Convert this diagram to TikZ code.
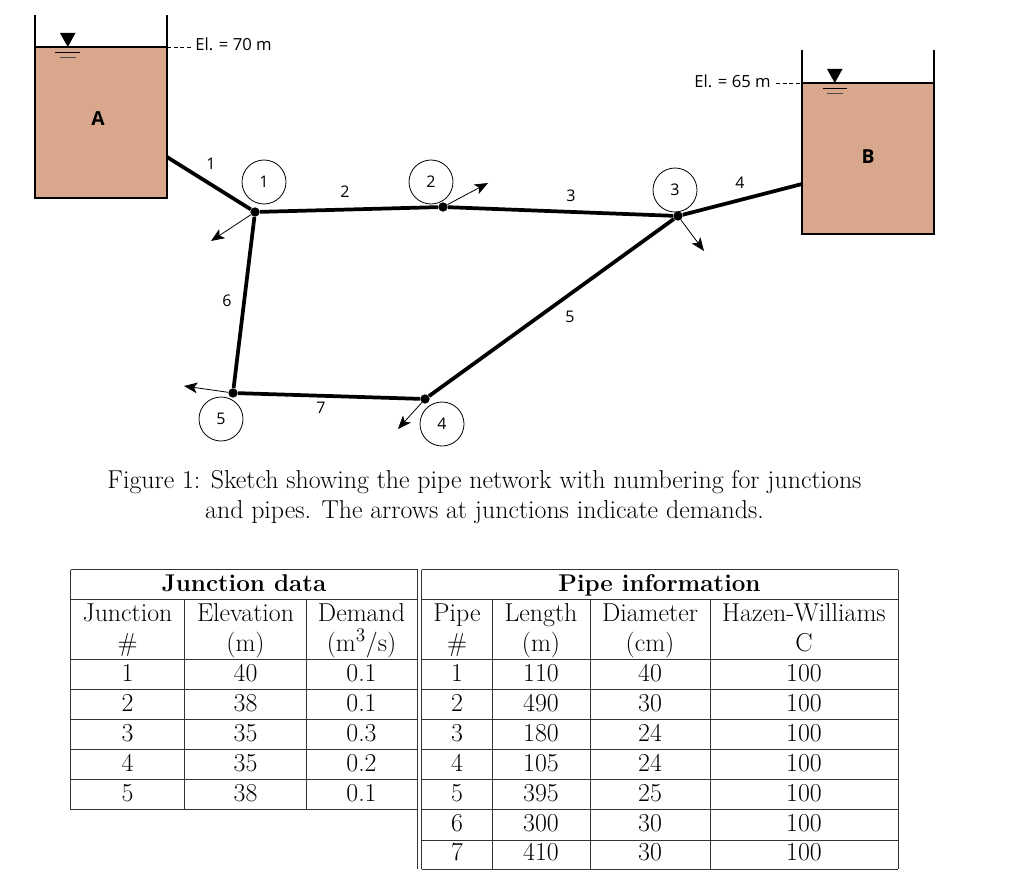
\documentclass[tikz,border=0pt]{standalone}
\usepackage{fontspec}
\newfontfamily\sketchfont{Open Sans}
\usetikzlibrary{arrows.meta}
\definecolor{tankfill}{HTML}{D9A88C}
\tikzset{
    pipe/.style={line width=2.8pt},
    demand/.style={-{Stealth[length=10pt,width=8pt,inset=2.5pt]}, line width=0.6pt},
    junction/.style={circle, fill=black, inner sep=0pt, minimum size=7pt},
    jlabel/.style={circle, draw, line width=0.6pt, inner sep=0pt, minimum size=33pt, font=\sketchfont\fontsize{12}{14}\selectfont},
    plabel/.style={font=\sketchfont\fontsize{12}{14}\selectfont, inner sep=0pt},
    elabel/.style={font=\sketchfont\fontsize{12.5}{15}\selectfont, inner sep=0pt},
    tlabel/.style={font=\sketchfont\bfseries\fontsize{14.5}{17}\selectfont, inner sep=0pt},
    cell/.style={font=\fontsize{19.4}{23}\selectfont, anchor=base, inner sep=0pt},
    rule/.style={line width=0.65pt, black!80},
}
\begin{document}
\begin{tikzpicture}[x=0.75pt, y=-0.75pt]
    \useasboundingbox (0,0) rectangle (1024,888);
    % Tanks:
    \fill[tankfill] (35,47) rectangle (167,198);
    \draw[line width=0.9pt] (35,15) -- (35,198) -- (167,198) -- (167,15);
    \draw[line width=0.9pt] (35,47) -- (167,47);
    \fill[tankfill] (802,83) rectangle (934,234);
    \draw[line width=0.9pt] (802,50) -- (802,234) -- (934,234) -- (934,50);
    \draw[line width=0.9pt] (802,83) -- (934,83);
    \node[tlabel] (tankA) at (98,119) {A};
    \node[tlabel] (tankB) at (868,157) {B};
    % Water levels:
    \fill (60,33) -- (75.5,33) -- (67.8,47) -- cycle;
    \draw[line width=0.6pt] (55,52) -- (80,52);
    \draw[line width=0.6pt, black!70] (60,57) -- (76,57);
    \fill (827,69) -- (842.5,69) -- (834.8,83) -- cycle;
    \draw[line width=0.6pt] (823,88) -- (847,88);
    \draw[line width=0.6pt, black!70] (827,93) -- (843,93);
    \node[elabel, anchor=west] (elA) at (195,44) {El. = 70 m};
    \node[elabel, anchor=east] (elB) at (771,81) {El. = 65 m};
    \draw[densely dashed, line width=0.5pt] (167,47) -- (191,47);
    \draw[densely dashed, line width=0.5pt] (776,83) -- (802,83);
    % Junctions:
    \node[junction] (j1) at (255,212) {};
    \node[junction] (j2) at (443,207) {};
    \node[junction] (j3) at (678,216) {};
    \node[junction] (j4) at (425,399) {};
    \node[junction] (j5) at (233,393) {};
    \coordinate (outA) at (167,157);
    \coordinate (outB) at (802,184);
    % Pipes:
    \draw[pipe] (outA) -- (j1);
    \draw[pipe] (j1) -- (j2);
    \draw[pipe] (j2) -- (j3);
    \draw[pipe] (j3) -- (outB);
    \draw[pipe] (j3) -- (j4);
    \draw[pipe] (j1) -- (j5);
    \draw[pipe] (j5) -- (j4);
    % Demands:
    \coordinate (d1) at (211,241);
    \coordinate (d2) at (488,183);
    \coordinate (d3) at (704,251);
    \coordinate (d4) at (398,429);
    \coordinate (d5) at (184,386);
    \foreach \n in {1,...,5}
        \draw[demand] (j\n) -- (d\n);
    % Labels:
    \foreach \n/\x/\y in {1/264/182, 2/431/182, 3/675/190, 4/442/424, 5/221/419}
        \node[jlabel] (c\n) at (\x,\y) {\n};
    \foreach \n/\x/\y in {1/211/164, 2/345/192, 3/571/196, 4/740/183, 5/570/317, 6/227/301, 7/321/408}
        \node[plabel] (p\n) at (\x,\y) {\n};
    % Caption:
    \node[align=center, inner sep=0pt, font=\fontsize{19.4}{22.5}\selectfont] (caption) at (484.5,497)
        {Figure 1: Sketch showing the pipe network with numbering for junctions\\
         and pipes. The arrows at junctions indicate demands.};
    % Table rules:
    \foreach \y in {569.5,599.5,659,689.5,719.5,749.5,779.5,809.5}
        \draw[rule] (70.5,\y) -- (417.5,\y);
    \foreach \y in {569.5,599.5,659,689.5,719.5,749.5,779.5,809.5,840,869}
        \draw[rule] (421.5,\y) -- (898,\y);
    \draw[rule] (70.5,569.5) -- (70.5,809.5);
    \foreach \x in {184.5,306.5}
        \draw[rule] (\x,599.5) -- (\x,809.5);
    \foreach \x in {417.5,421.5}
        \draw[rule] (\x,569.5) -- (\x,869);
    \foreach \x in {492.5,590,710}
        \draw[rule] (\x,599.5) -- (\x,869);
    \draw[rule] (898,569.5) -- (898,869);
    % Table text:
    \node[cell, font=\fontsize{18.15}{22}\selectfont\bfseries] (jtitle) at (244,591.2) {Junction data};
    \node[cell, font=\fontsize{18.15}{22}\selectfont\bfseries] (ptitle) at (659.5,591.2) {Pipe information};
    \foreach \x/\a/\b [count=\c] in {127.5/Junction/\#, 245.5/Elevation/(m), 361.5/Demand/{(m$^3$/s)},
                                     457/Pipe/\#, 541/Length/(m), 650/Diameter/(cm), 804/Hazen-Williams/C} {
        \node[cell] (heada\c) at (\x,621.4) {\a};
        \node[cell] (headb\c) at (\x,651.4) {\b};
    }
    \foreach \n/\e/\d/\y in {1/40/0.1/681.4, 2/38/0.1/711.4, 3/35/0.3/741.4, 4/35/0.2/771.4, 5/38/0.1/801.4} {
        \node[cell] (jn\n) at (127.5,\y) {\n};
        \node[cell] (je\n) at (245.5,\y) {\e};
        \node[cell] (jd\n) at (361.5,\y) {\d};
    }
    \foreach \n/\l/\d/\y in {1/110/40/681.4, 2/490/30/711.4, 3/180/24/741.4, 4/105/24/771.4,
                             5/395/25/801.4, 6/300/30/831.4, 7/410/30/860.4} {
        \node[cell] (pn\n) at (457,\y) {\n};
        \node[cell] (pl\n) at (541,\y) {\l};
        \node[cell] (pd\n) at (650,\y) {\d};
        \node[cell] (pc\n) at (804,\y) {100};
    }
\end{tikzpicture}
\end{document}
